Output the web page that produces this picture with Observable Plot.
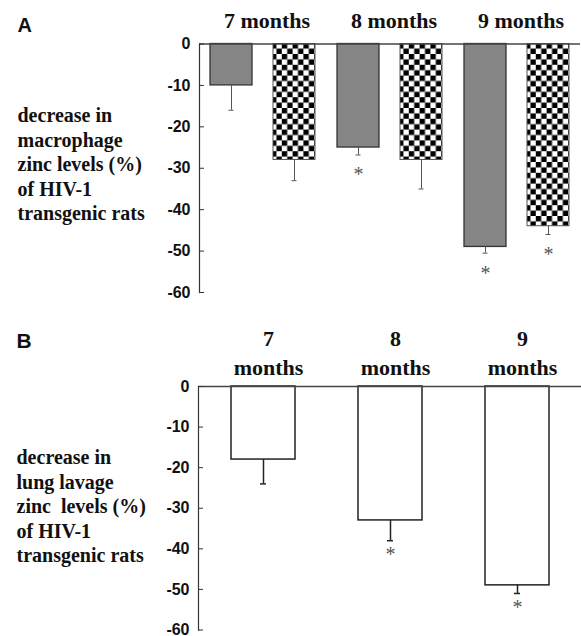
<!DOCTYPE html>
<html><head><meta charset="utf-8">
<script src="https://cdn.jsdelivr.net/npm/d3@7"></script>
<script src="https://cdn.jsdelivr.net/npm/@observablehq/plot@0.6"></script>
<style>
body{margin:0;background:#fff}
#chart svg{display:block}
#chart text{white-space:pre}
</style>
</head><body><div id="chart"></div>
<script>
// ---- data ----
const months = ["7", "8", "9"];
const barTypes = ["gray", "checker"];
const macrophageGray = [-10, -25, -49];
const macrophageGrayErr = [6, 1.8, 1.5];
const macrophageGraySig = [false, true, true];
const macrophageChecker = [-28, -28, -44];
const macrophageCheckerErr = [5, 7, 2];
const macrophageCheckerSig = [false, false, true];
const lavage = [-18, -33, -49];
const lavageErr = [6, 5, 2];
const lavageSig = [false, true, true];
const yTicks = [0, -10, -20, -30, -40, -50, -60];
const labelA = "decrease in\nmacrophage\nzinc levels (%)\nof HIV-1\ntransgenic rats";
const labelB = "decrease in\nlung lavage\nzinc  levels (%)\nof HIV-1\ntransgenic rats";

const dataA = months.flatMap((m, i) => [
  {month: m, type: "gray", value: macrophageGray[i], err: macrophageGrayErr[i], sig: macrophageGraySig[i]},
  {month: m, type: "checker", value: macrophageChecker[i], err: macrophageCheckerErr[i], sig: macrophageCheckerSig[i]}
]);
const dataB = months.map((m, i) => ({month: m, value: lavage[i], err: lavageErr[i], sig: lavageSig[i]}));

const serif = "'Liberation Serif','Times New Roman',serif";
const sans = "'Liberation Sans',Arial,sans-serif";

const yAxis = () => Plot.axisY({
  ticks: yTicks, tickSize: -5, tickPadding: 14, tickFormat: d => String(d), label: null,
  fontSize: 16, fontWeight: "bold", fontFamily: sans, stroke: "#333", fill: "#111"
});

const plotA = Plot.plot({
  width: 581, height: 300,
  marginLeft: 198, marginRight: 0, marginTop: 43.5, marginBottom: 8,
  style: {background: "white", fontFamily: sans, overflow: "visible"},
  fx: {domain: months, padding: 0, axis: null, label: null},
  x: {domain: barTypes, paddingInner: 0.33, paddingOuter: 0.16, axis: null},
  y: {domain: [-60, 0], axis: null, label: null},
  marks: [
    Plot.barY(dataA, {filter: d => d.type === "gray", fx: "month", x: "type", y: "value", fill: "#858585", stroke: "#333", strokeWidth: 1.3}),
    Plot.barY(dataA, {filter: d => d.type === "checker", fx: "month", x: "type", y: "value", fill: "url(#checker)", stroke: "#555", strokeWidth: 1}),
    Plot.ruleX(dataA, {fx: "month", x: "type", y1: "value", y2: d => d.value - d.err, stroke: "#555", strokeWidth: 1}),
    Plot.tickY(dataA, {fx: "month", x: "type", y: d => d.value - d.err, insetLeft: 18.5, insetRight: 18.5, stroke: "#555", strokeWidth: 1}),
    Plot.text(dataA, {filter: "sig", fx: "month", x: "type", y: d => d.value - d.err, text: () => "*", dy: 20, lineAnchor: "middle", fill: "#555", fontSize: 20, fontFamily: serif}),
    Plot.ruleY([0], {stroke: "#444", strokeWidth: 1.5}),
    Plot.frame({anchor: "left", facetAnchor: "left", stroke: "#333", strokeWidth: 1.2}),
    yAxis(),
    Plot.text(months, {fx: d => d, text: d => d + " months", frameAnchor: "top", lineAnchor: "bottom", dy: -16.5, dx: 4, fontSize: 22, fontWeight: "bold", fontFamily: serif, fill: "#111"}),
    Plot.text([labelA], {frameAnchor: "left", facetAnchor: "left", dx: -182, dy: -5, textAnchor: "start", lineAnchor: "middle", lineHeight: 1.225, fontSize: 20, fontWeight: "bold", fontFamily: serif, fill: "#111"}),
    Plot.text(["A"], {frameAnchor: "top-left", facetAnchor: "left", dx: -182, dy: -12.5, textAnchor: "start", lineAnchor: "bottom", fontSize: 20, fontWeight: "bold", fontFamily: sans, fill: "#111"})
  ]
});

const plotB = Plot.plot({
  width: 581, height: 336,
  marginLeft: 198, marginRight: 0, marginTop: 86, marginBottom: 6.5,
  style: {background: "white", fontFamily: sans, overflow: "visible"},
  x: {domain: months, paddingInner: 0.5, paddingOuter: 0.25, axis: null, label: null},
  y: {domain: [-60, 0], axis: null, label: null},
  marks: [
    Plot.barY(dataB, {x: "month", y: "value", fill: "white", stroke: "#222", strokeWidth: 1.5}),
    Plot.ruleX(dataB, {x: "month", y1: "value", y2: d => d.value - d.err, stroke: "#222", strokeWidth: 1.5}),
    Plot.tickY(dataB, {x: "month", y: d => d.value - d.err, insetLeft: 29, insetRight: 29, stroke: "#222", strokeWidth: 1.5}),
    Plot.text(dataB, {filter: "sig", x: "month", y: d => d.value - d.err, text: () => "*", dy: 14, lineAnchor: "middle", fill: "#555", fontSize: 20, fontFamily: serif}),
    Plot.ruleY([0], {stroke: "#444", strokeWidth: 1.5}),
    Plot.frame({anchor: "left", stroke: "#333", strokeWidth: 1.2}),
    yAxis(),
    Plot.text(months, {x: d => d, text: d => d + "\nmonths", frameAnchor: "top", lineAnchor: "bottom", dy: -12, dx: 5, lineHeight: 1.3, fontSize: 22, fontWeight: "bold", fontFamily: serif, fill: "#111"}),
    Plot.text([labelB], {frameAnchor: "left", dx: -182, dy: -3, textAnchor: "start", lineAnchor: "middle", lineHeight: 1.225, fontSize: 20, fontWeight: "bold", fontFamily: serif, fill: "#111"}),
    Plot.text(["B"], {frameAnchor: "top-left", dx: -182, dy: -39, textAnchor: "start", lineAnchor: "bottom", fontSize: 21, fontWeight: "bold", fontFamily: sans, fill: "#111"})
  ]
});

const patternDef = '<pattern id="checker" width="10.8" height="10.8" patternUnits="userSpaceOnUse">' +
  '<rect width="10.8" height="10.8" fill="white"/>' +
  '<rect width="5.4" height="5.4" fill="black"/>' +
  '<rect x="5.4" y="5.4" width="5.4" height="5.4" fill="black"/></pattern>';
d3.select(plotA).insert("defs", ":first-child").html(patternDef);

document.getElementById("chart").append(plotA, plotB);
</script>
</body></html>
